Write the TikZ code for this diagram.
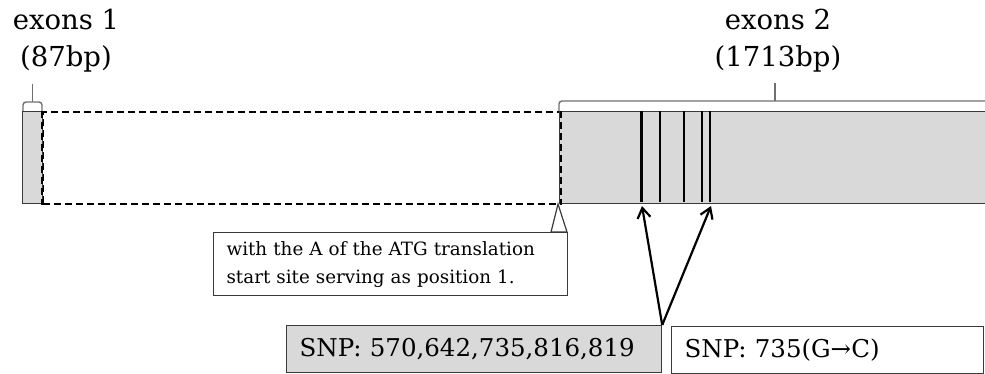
\documentclass[tikz,border=0pt]{standalone}
\usepackage{fontspec}
\setmainfont{DejaVu Serif}
\usetikzlibrary{arrows.meta}
\definecolor{exgray}{HTML}{D9D9D9}
\definecolor{edgec}{HTML}{3A3A3A}
\definecolor{brk}{HTML}{707070}
\begin{document}
\begin{tikzpicture}[x=1pt,y=-1pt,
  exonbox/.style={fill=exgray, draw=edgec, line width=1.2pt, inner sep=0pt, anchor=north west},
  intronbox/.style={draw=black, line width=2.2pt, dash pattern=on 7pt off 4pt, inner sep=0pt, anchor=north west},
  dashline/.style={draw=black, line width=2.2pt, dash pattern=on 7pt off 4pt},
  snpline/.style={line width=2.4pt, draw=black},
  bracket/.style={draw=brk, line width=1.4pt, rounded corners=3pt},
  exlabel/.style={font=\fontsize{27.5}{37}\selectfont, align=center},
  notebox/.style={draw=edgec, line width=1.2pt, fill=white, anchor=north west, align=left,
    inner xsep=13pt, inner ysep=0pt, font=\fontsize{18.3}{28}\selectfont},
  snpbox/.style={draw=edgec, line width=1.2pt, anchor=north west, align=left,
    inner xsep=13pt, inner ysep=0pt, font=\fontsize{24.5}{28}\selectfont},
  arrowst/.style={line width=2.2pt, -{Straight Barb[length=10pt,width=13pt,line width=2.2pt]}}
]
\useasboundingbox (0,0) rectangle (985,374);
% exon 1, intron, exon 2
\node[intronbox, minimum width=517pt, minimum height=92pt] (intron) at (42,111) {};
\node[exonbox, minimum width=20pt, minimum height=92pt] (ex1) at (22,111) {};
\node[exonbox, minimum width=440pt, minimum height=92pt] (ex2) at (559,111) {};
\draw[dashline] (intron.north east) -- (intron.south east);
\draw[dashline] (intron.north west) -- (intron.south west);
% SNP lines
\foreach \x in {641.5,660,684,702,710}{
  \draw[snpline] (\x,111.5) -- (\x,202.5);
}
\coordinate (t1) at (642,206);
\coordinate (t2) at (711,206);
% brackets
\draw[bracket] (23,111) -- (23,102) -- (42,102) -- (42,111);
\coordinate (b1) at (32.5,102);
\coordinate (b1t) at (32.5,84);
\draw[brk, line width=1.4pt] (b1) -- (b1t);
\draw[bracket] (559,111) -- (559,101) -- (1000,101);
\coordinate (b2) at (775,101);
\coordinate (b2t) at (775,83);
\draw[brk, line width=1.4pt] (b2) -- (b2t);
% labels
\node[exlabel] (lab1) at (66,41) {exons 1\\(87bp)};
\node[exlabel] (lab2) at (778,41) {exons 2\\(1713bp)};
% start marker and note
\node[notebox, minimum width=354pt, minimum height=63pt, text width=328pt] (note) at (213,232)
  {with the A of the ATG translation\\start site serving as position 1.};
\coordinate (tri) at (558,204);
\draw[edgec, line width=1.2pt, fill=white] (tri) -- (551,232) -- (567,232) -- cycle;
% SNP boxes
\node[snpbox, fill=exgray, minimum width=375pt, minimum height=47pt, text width=349pt] (snp) at (286,325)
  {SNP: 570,642,735,816,819};
\node[snpbox, fill=white, minimum width=312pt, minimum height=47pt, text width=286pt] (snp2) at (671,326)
  {SNP: 735(G→C)};
% arrows
\draw[arrowst] (snp.north east) -- (t1);
\draw[arrowst] (snp.north east) -- (t2);
\end{tikzpicture}
\end{document}
